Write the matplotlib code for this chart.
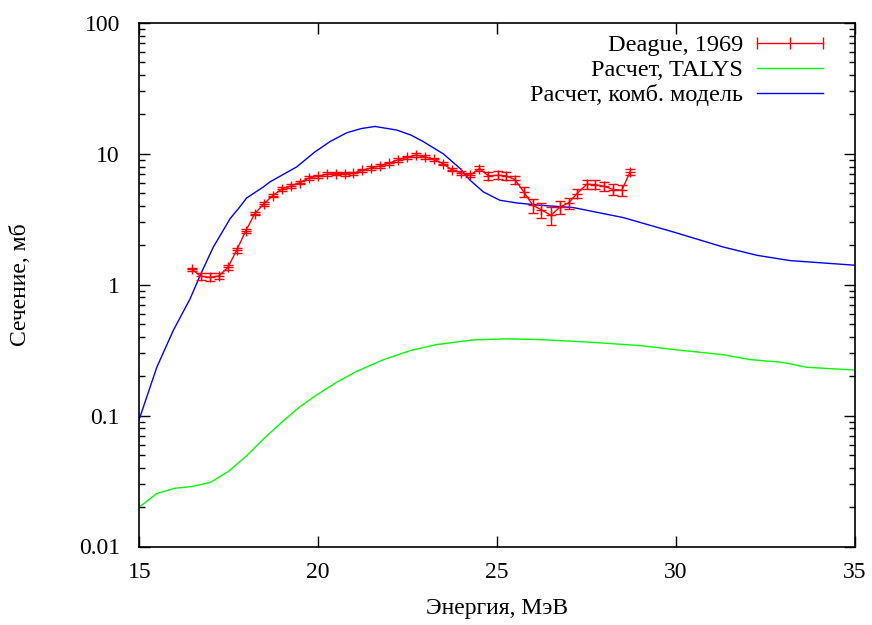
import matplotlib
matplotlib.use("Agg")
import matplotlib.pyplot as plt
from matplotlib.lines import Line2D
import numpy as np

# Experimental data (Deague, 1969)
exp_E = [16.48, 16.72, 16.99, 17.23, 17.48, 17.72, 17.97, 18.23, 18.48, 18.73,
         18.99, 19.24, 19.49, 19.74, 19.99, 20.24, 20.49, 20.74, 20.98, 21.23,
         21.48, 21.73, 21.98, 22.23, 22.48, 22.74, 22.98, 23.23, 23.48, 23.73,
         23.99, 24.25, 24.51, 24.76, 25.02, 25.25, 25.50, 25.75, 26.00, 26.23,
         26.51, 26.76, 27.00, 27.24, 27.51, 27.74, 27.99, 28.25, 28.49, 28.72]
exp_sigma = [1.31, 1.16, 1.14, 1.17, 1.36, 1.83, 2.56, 3.50, 4.14, 4.80,
             5.40, 5.69, 6.04, 6.55, 6.75, 7.00, 7.08, 7.04, 7.12, 7.50,
             7.81, 8.09, 8.49, 9.00, 9.39, 9.78, 9.49, 9.10, 8.44, 7.59,
             7.16, 6.87, 7.73, 6.79, 6.87, 6.79, 6.37, 5.12, 4.05, 3.75,
             3.39, 3.93, 4.22, 4.98, 5.86, 5.82, 5.66, 5.34, 5.28, 7.28]
exp_err = [0.04, 0.07, 0.08, 0.06, 0.06, 0.07, 0.09, 0.11, 0.12, 0.14,
           0.16, 0.17, 0.18, 0.20, 0.20, 0.21, 0.21, 0.21, 0.21, 0.22,
           0.23, 0.24, 0.25, 0.27, 0.28, 0.29, 0.28, 0.27, 0.25, 0.23,
           0.29, 0.27, 0.31, 0.48, 0.48, 0.48, 0.45, 0.46, 0.50, 0.50,
           0.55, 0.45, 0.40, 0.40, 0.45, 0.45, 0.45, 0.50, 0.55, 0.40]

# TALYS calculation
talys_E = [15.0, 15.49, 16.0, 16.46, 16.98, 17.49, 18.0, 18.47, 19.03, 19.49,
           19.96, 20.52, 21.08, 21.82, 22.57, 23.31, 23.97, 24.34, 25.27, 26.2,
           27.6, 29.0, 29.93, 31.33, 32.07, 33.0, 33.66, 35.0]
talys_sigma = [0.020, 0.0254, 0.0279, 0.0287, 0.0308, 0.0374, 0.0493, 0.0662, 0.0914, 0.117,
               0.144, 0.180, 0.218, 0.267, 0.314, 0.349, 0.368, 0.379, 0.386, 0.381,
               0.364, 0.343, 0.320, 0.292, 0.268, 0.255, 0.234, 0.223]

# Combined model calculation
comb_E = [15.0, 15.49, 15.95, 16.42, 16.72, 17.07, 17.54, 17.8, 18.0, 18.47,
          18.65, 19.4, 19.9, 20.33, 20.8, 21.2, 21.59, 22.2, 22.6, 22.94,
          23.5, 23.97, 24.25, 24.62, 25.08, 25.55, 26.2, 27.13, 28.53, 29.93,
          31.33, 32.26, 33.19, 35.0]
comb_sigma = [0.094, 0.234, 0.447, 0.78, 1.21, 1.94, 3.2, 3.9, 4.6, 5.59,
              6.1, 7.95, 10.3, 12.4, 14.5, 15.6, 16.2, 15.2, 13.9, 12.4,
              10.0, 7.73, 6.28, 5.12, 4.42, 4.22, 4.05, 3.89, 3.26, 2.53,
              1.94, 1.68, 1.53, 1.41]

xticks = [15, 20, 25, 30, 35]
yticks = [0.01, 0.1, 1, 10, 100]
ytick_labels = ["0.01", "0.1", "1", "10", "100"]

plt.rcParams['font.family'] = ['Liberation Serif', 'DejaVu Serif']

fig = plt.figure(figsize=(8.72, 6.25), dpi=100)
ax = fig.add_axes([0.1597, 0.1256, 0.9802 - 0.1597, 0.9632 - 0.1256])

ax.errorbar(exp_E, exp_sigma, yerr=exp_err, color='#ff0000', lw=1.0,
            marker='+', markersize=7, markeredgewidth=1.0,
            capsize=3.5, elinewidth=1.0, capthick=1.0, zorder=3)
ax.plot(talys_E, talys_sigma, color='#00ff00', lw=1.0)
ax.plot(comb_E, comb_sigma, color='#0000ff', lw=1.0)

ax.set_yscale('log')
ax.set_xlim(15, 35)
ax.set_ylim(0.01, 100)
ax.set_xticks(xticks)
ax.set_xticklabels([str(t) for t in xticks])
ax.set_yticks(yticks)
ax.set_yticklabels(ytick_labels)
ax.tick_params(which='both', direction='in', top=True, right=True, labelsize=17)
ax.tick_params(axis='y', which='major', pad=14)
ax.tick_params(axis='x', which='major', pad=11)
ax.tick_params(which='major', length=8, width=1.0)
ax.tick_params(which='minor', length=4, width=1.0)
ax.xaxis.set_minor_locator(matplotlib.ticker.NullLocator())
for s in ax.spines.values():
    s.set_linewidth(1.2)

ax.set_xlabel('Энергия, МэВ', fontsize=17, labelpad=11)
ax.set_ylabel('Сечение, мб', fontsize=17, labelpad=34)

handles = [Line2D([], [], color='#ff0000', lw=1.0, marker='|', markersize=9, markeredgewidth=1.0),
           Line2D([], [], color='#00ff00', lw=1.0),
           Line2D([], [], color='#0000ff', lw=1.0)]
labels = ['Deague, 1969', 'Расчет, TALYS', 'Расчет, комб. модель']
ax.legend(handles, labels, loc='upper right', bbox_to_anchor=(0.9795, 0.997),
          frameon=False, markerfirst=False, numpoints=3, fontsize=17.5,
          handlelength=3.3, handletextpad=0.3, labelspacing=0.12, borderaxespad=0)

fig.savefig('out.png', dpi=100)
